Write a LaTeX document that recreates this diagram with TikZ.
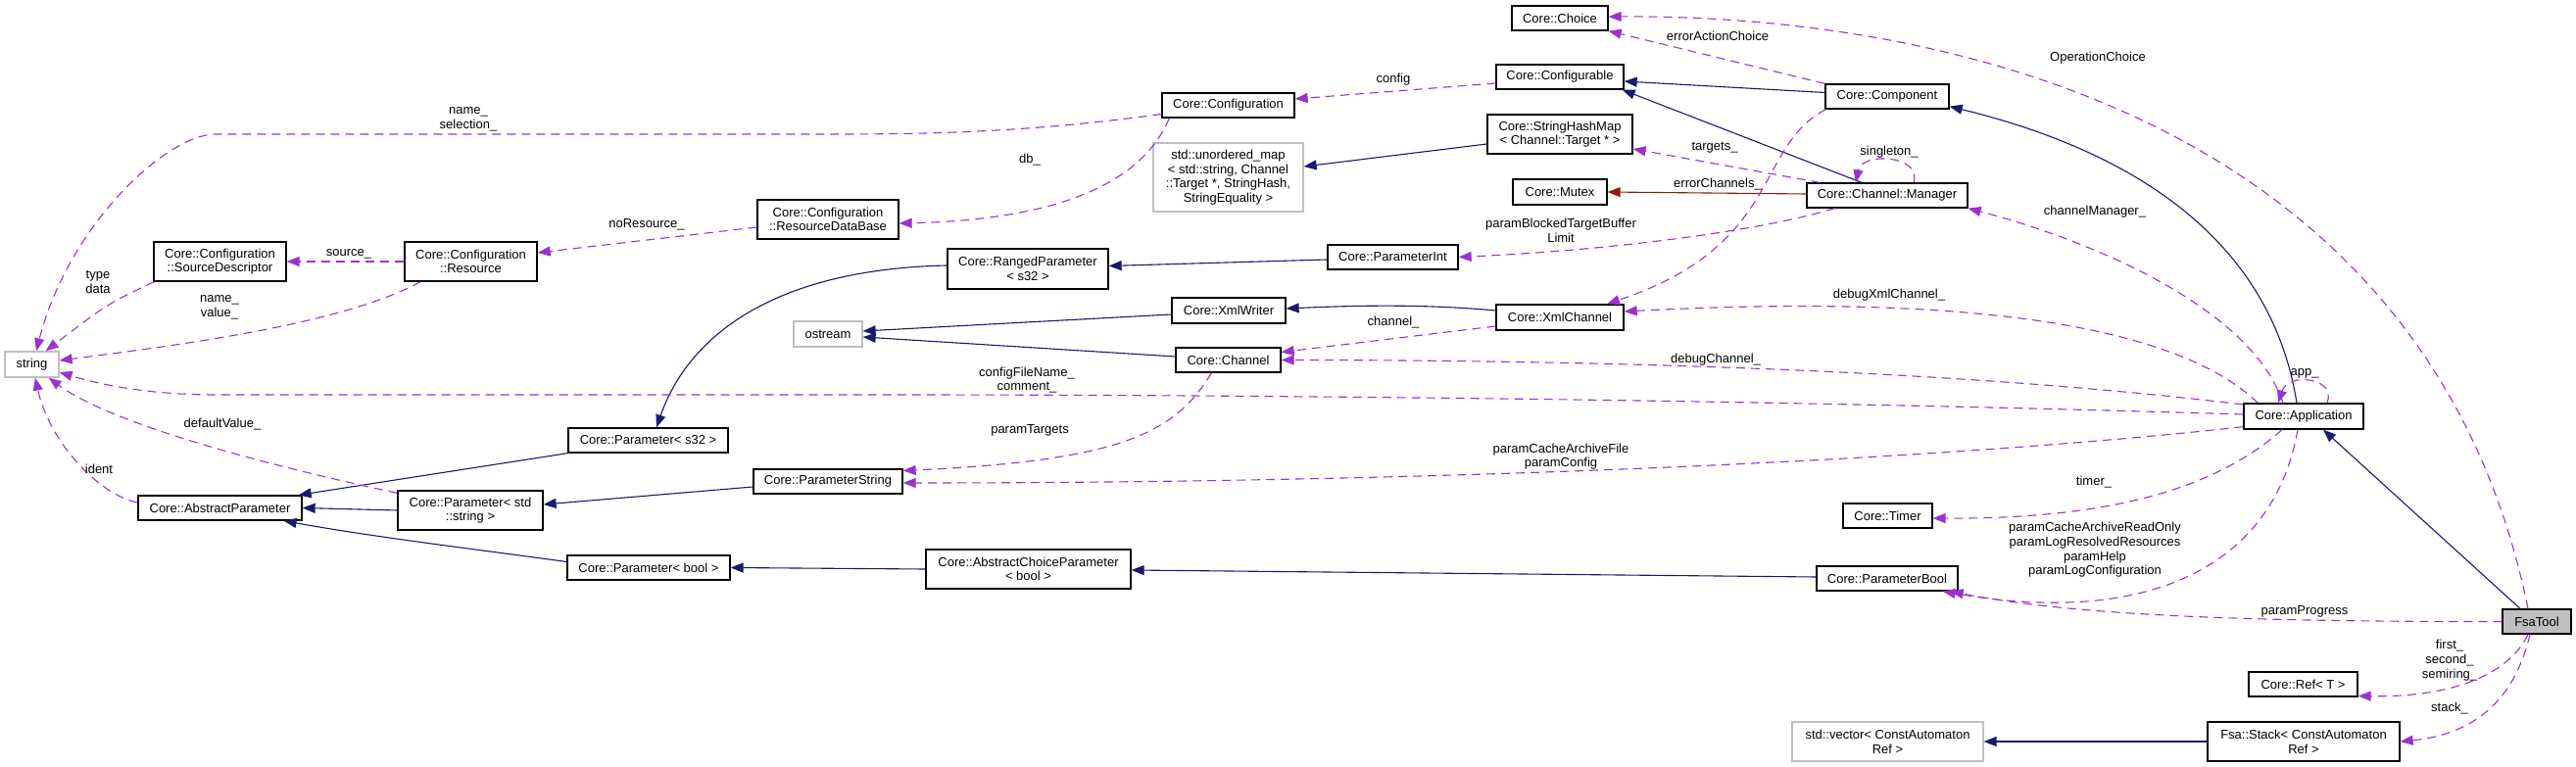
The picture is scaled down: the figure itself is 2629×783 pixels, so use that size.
\documentclass[tikz,border=0pt]{standalone}
\usepackage{fontspec}
\setmainfont{Liberation Sans}
\usepackage{tikz}
\usetikzlibrary{arrows.meta,calc}
\definecolor{inknavy}{HTML}{191970}
\definecolor{inkplum}{HTML}{9A32CD}
\definecolor{inkbrick}{HTML}{8B1A1A}
\definecolor{boxgray}{HTML}{BFBFBF}
\newcommand{\doxfont}{\fontsize{13}{14.7}\selectfont}
\tikzset{
  cls/.style={rectangle, draw=black, fill=white, line width=1.3pt, align=center,
              inner sep=0pt, font=\doxfont},
  sz/.style 2 args={minimum width=#1pt, minimum height=#2pt},
  extcls/.style={cls, draw=boxgray},
  curcls/.style={cls, fill=boxgray},
  lbl/.style={font=\doxfont, align=center, inner sep=0pt},
  base/.style={-{Triangle[length=13pt,width=10pt]}, draw=inknavy, line width=1.1pt},
  member/.style={-{Triangle[length=13pt,width=10pt]}, draw=inkplum, line width=1.1pt,
                 dash pattern=on 9pt off 6pt},
  guarded/.style={-{Triangle[length=13pt,width=10pt]}, draw=inkbrick, line width=1.1pt},
}

\begin{document}
\begin{tikzpicture}[x=1pt, y=-1pt]
\useasboundingbox (0,0) rectangle (2629,783);

% classes
\node[extcls, sz={55}{26}] (str) at (32.5,372) {string};
\node[cls, sz={135}{40}] (srcDesc) at (224.5,267) {Core::Configuration\\::SourceDescriptor};
\node[cls, sz={135}{40}] (resource) at (480.5,267) {Core::Configuration\\::Resource};
\node[cls, sz={144}{40}] (resDB) at (845,224) {Core::Configuration\\::ResourceDataBase};
\node[extcls, sz={70}{26}] (ostream) at (845,341) {ostream};
\node[cls, sz={163}{25}] (paramS32) at (661.5,449.5) {Core::Parameter< s32 >};
\node[cls, sz={167}{25}] (absParam) at (224.5,518.5) {Core::AbstractParameter};
\node[cls, sz={148}{40}] (paramStdStr) at (480,521) {Core::Parameter< std\\::string >};
\node[cls, sz={152}{25}] (paramString) at (845,491.5) {Core::ParameterString};
\node[cls, sz={166}{25}] (paramBoolT) at (662,579.5) {Core::Parameter< bool >};
\node[cls, sz={98}{25}] (choice) at (1592,18.5) {Core::Choice};
\node[cls, sz={130}{25}] (configurable) at (1592,78.5) {Core::Configurable};
\node[cls, sz={135}{25}] (configuration) at (1253.5,107.5) {Core::Configuration};
\node[cls, sz={148}{40}] (hashMap) at (1592,137) {Core::StringHashMap\\< Channel::Target * >};
\node[extcls, sz={153}{70}] (unordMap) at (1253.5,181)
 {std::unordered\_map\\< std::string, Channel\\::Target *, StringHash,\\StringEquality >};
\node[cls, sz={96}{26}] (mutex) at (1592,196) {Core::Mutex};
\node[cls, sz={133}{25}] (paramInt) at (1421.5,262.5) {Core::ParameterInt};
\node[cls, sz={164}{41}] (rangedParam) at (1049,274.5) {Core::RangedParameter\\< s32 >};
\node[cls, sz={116}{26}] (xmlWriter) at (1254,317) {Core::XmlWriter};
\node[cls, sz={130}{26}] (xmlChannel) at (1592,324) {Core::XmlChannel};
\node[cls, sz={107}{25}] (channel) at (1253.5,367.5) {Core::Channel};
\node[cls, sz={209}{40}] (absChoice) at (1049.5,581) {Core::AbstractChoiceParameter\\< bool >};
\node[cls, sz={126}{25}] (component) at (1926,98.5) {Core::Component};
\node[cls, sz={164}{25}] (manager) at (1926,199.5) {Core::Channel::Manager};
\node[cls, sz={122}{26}] (application) at (2351,425) {Core::Application};
\node[cls, sz={91}{25}] (timer) at (1926.5,526.5) {Core::Timer};
\node[cls, sz={144}{25}] (paramBool) at (1926,590.5) {Core::ParameterBool};
\node[curcls, sz={70}{25}] (fsaTool) at (2589,634.5) {FsaTool};
\node[cls, sz={111}{25}] (ref) at (2350.5,698.5) {Core::Ref< T >};
\node[cls, sz={196}{40}] (stack) at (2351,757) {Fsa::Stack< ConstAutomaton\\Ref >};
\node[extcls, sz={195}{40}] (vector) at (1926.5,757) {std::vector< ConstAutomaton\\Ref >};

% inheritance
\draw[base] ($(component.west)+(0,-4)$) -- ($(configurable.east)+(0,4.5)$);
\draw[base] ($(manager.north)+(-26,0)$) -- ($(configurable.south east)+(-2,0)$);
\draw[base] ($(application.north)+(-7,0)$) .. controls (2320,260) and (2200,160) .. ($(component.south east)+(0,-3)$);
\draw[base] ($(fsaTool.north)+(-17,0)$) -- ($(application.south)+(20,0)$);
\draw[base] ($(hashMap.west)+(0,10)$) -- ($(unordMap.east)+(0,-11)$);
\draw[base] (paramS32.south west) -- ($(absParam.north east)+(-4,0)$);
\draw[base] (paramStdStr.west) -- (absParam.east);
\draw[base] ($(paramBoolT.west)+(0,-6)$) .. controls (480,560) and (380,548) .. ($(absParam.south east)+(-19,0)$);
\draw[base] ($(paramString.west)+(0,5.5)$) -- ($(paramStdStr.east)+(0,-6)$);
\draw[base] ($(rangedParam.west)+(0,-3.5)$) .. controls (780,275) and (700,350) .. ($(paramS32.north)+(8.5,0)$);
\draw[base] ($(paramInt.west)+(0,2.5)$) -- ($(rangedParam.east)+(0,-3)$);
\draw[base] ($(xmlChannel.west)+(0,-7)$) .. controls (1450,310) and (1380,312) .. ($(xmlWriter.east)+(0,-2)$);
\draw[base] ($(xmlWriter.west)+(0,4)$) -- ($(ostream.east)+(0,-3)$);
\draw[base] ($(channel.west)+(0,-3.5)$) -- ($(ostream.east)+(0,3)$);
\draw[base] ($(paramBool.west)+(0,-1.5)$) -- ($(absChoice.east)+(0,1)$);
\draw[base] (absChoice.west) -- (paramBoolT.east);
\draw[base] (stack.west) -- (vector.east);
\draw[guarded] ($(manager.west)+(0,-1.5)$) -- (mutex.east);

% members
\draw[member] (component.north west) -- (choice.south east);
\draw[member] ($(fsaTool.north)+(-9,0)$) .. controls (2480,130) and (2000,15) .. ($(choice.east)+(0,-1.5)$);
\draw[member] ($(configurable.west)+(0,6.5)$) -- ($(configuration.east)+(0,-6.5)$);
\draw[member] ($(configuration.south west)+(8,0)$) .. controls (1160,200) and (1050,225) .. ($(resDB.east)+(0,4)$);
\draw[member] ($(configuration.west)+(0,9)$) .. controls (1050,135) and (950,137) .. (850,137)
  -- (220,137) .. controls (170,137) and (70,230) .. ($(str.north)+(4.5,0)$);
\draw[member] (resource.west) -- (srcDesc.east);
\draw[member] ($(resDB.west)+(0,8)$) -- ($(resource.east)+(0,-9)$);
\draw[member] ($(srcDesc.south west)+(1,0)$) .. controls (110,310) .. ($(str.north east)+(-14,0)$);
\draw[member] ($(resource.south west)+(17,0)$) .. controls (350,330) and (200,350) .. ($(str.east)+(0,-4)$);
\draw[member] ($(absParam.west)+(0,-5.5)$) .. controls (100,505) and (50,450) .. ($(str.south)+(3.5,0)$);
\draw[member] ($(paramStdStr.north west)+(0,3)$) .. controls (250,470) and (110,430) .. ($(str.south east)+(-11,0)$);
\draw[member] ($(application.west)+(0,-2)$) .. controls (2000,414) and (1500,403) .. (900,403)
  -- (220,403) .. controls (150,403) and (100,392) .. ($(str.east)+(0,8)$);
\draw[member] ($(component.south west)+(1,0)$) .. controls (1790,150) and (1820,250) .. ($(xmlChannel.north)+(48,0)$);
\draw[member] ($(manager.north west)+(14,0)$) -- ($(hashMap.east)+(0,15)$);
\draw[member] ($(manager.north)+(27,0)$) .. controls (1962,158) and (1900,155) .. ($(manager.north)+(-32,0)$);
\draw[member] ($(manager.south west)+(29,0)$) .. controls (1800,235) and (1650,255) .. (paramInt.east);
\draw[member] ($(application.north)+(-21,0)$) .. controls (2300,320) and (2150,250) .. (manager.south east);
\draw[member] ($(application.north)+(24,0)$) .. controls (2385,385) and (2335,380) .. ($(application.north)+(-26,0)$);
\draw[member] ($(application.north west)+(15,0)$) .. controls (2220,330) and (2000,300) .. ($(xmlChannel.east)+(0,-6)$);
\draw[member] ($(application.west)+(0,-12)$) .. controls (2100,390) and (1800,368) .. (channel.east);
\draw[member] ($(xmlChannel.west)+(0,9)$) -- ($(channel.east)+(0,-8)$);
\draw[member] ($(channel.south)+(-17,0)$) .. controls (1200,440) and (1150,470) .. ($(paramString.east)+(0,-11)$);
\draw[member] ($(application.south west)+(0,-3)$) .. controls (2000,468) and (1500,493) .. ($(paramString.east)+(0,1.5)$);
\draw[member] ($(application.south)+(-22,0)$) .. controls (2260,500) and (2150,530) .. ($(timer.east)+(0,2.5)$);
\draw[member] ($(application.south)+(-6,0)$) .. controls (2320,580) and (2190,640) .. ($(paramBool.south east)+(-16,0)$);
\draw[member] (fsaTool.west) .. controls (2250,635) and (2100,625) .. ($(paramBool.south east)+(-8,0)$);
\draw[member] ($(fsaTool.south)+(-9,0)$) .. controls (2560,690) and (2500,712) .. ($(ref.east)+(0,12)$);
\draw[member] ($(fsaTool.south)+(-7,0)$) .. controls (2565,720) and (2520,750) .. (stack.east);

% edge labels
\node[lbl] (lblNameSel) at (478,122) {name\_\\selection\_};
\node[lbl] (lblTypeData) at (100,288) {type\\data};
\node[lbl] (lblNameValue) at (224,314) {name\_\\value\_};
\node[lbl] (lblSource) at (356,259) {source\_};
\node[lbl] (lblNoRes) at (660,229) {noResource\_};
\node[lbl] (lblDefault) at (227,433) {defaultValue\_};
\node[lbl] (lblIdent) at (101,479) {ident};
\node[lbl] (lblConfig) at (1422,81) {config};
\node[lbl] (lblErrAction) at (1753,37) {errorActionChoice};
\node[lbl] (lblDb) at (1051,163) {db\_};
\node[lbl] (lblTargets) at (1750,151) {targets\_};
\node[lbl] (lblErrChan) at (1753,188) {errorChannels\_};
\node[lbl] (lblBlocked) at (1593,235) {paramBlockedTargetBuffer\\Limit};
\node[lbl] (lblChannel) at (1422,329) {channel\_};
\node[lbl] (lblDebugChan) at (1751,367) {debugChannel\_};
\node[lbl] (lblConfigFile) at (1048,388) {configFileName\_\\comment\_};
\node[lbl] (lblTargetsP) at (1051,439) {paramTargets};
\node[lbl] (lblCacheFile) at (1593,466) {paramCacheArchiveFile\\paramConfig};
\node[lbl] (lblOpChoice) at (2141,59) {OperationChoice};
\node[lbl] (lblSingleton) at (1928,155) {singleton\_};
\node[lbl] (lblChanMgr) at (2138,216) {channelManager\_};
\node[lbl] (lblDebugXml) at (1928,301) {debugXmlChannel\_};
\node[lbl] (lblApp) at (2352,381) {app\_};
\node[lbl] (lblTimer) at (2137,492) {timer\_};
\node[lbl] (lblParamFlags) at (2138,561.5)
 {paramCacheArchiveReadOnly\\paramLogResolvedResources\\paramHelp\\paramLogConfiguration};
\node[lbl] (lblProgress) at (2352,624) {paramProgress};
\node[lbl] (lblFirst) at (2500,674) {first\_\\second\_\\semiring\_};
\node[lbl] (lblStack) at (2500,723) {stack\_};
\end{tikzpicture}
\end{document}
